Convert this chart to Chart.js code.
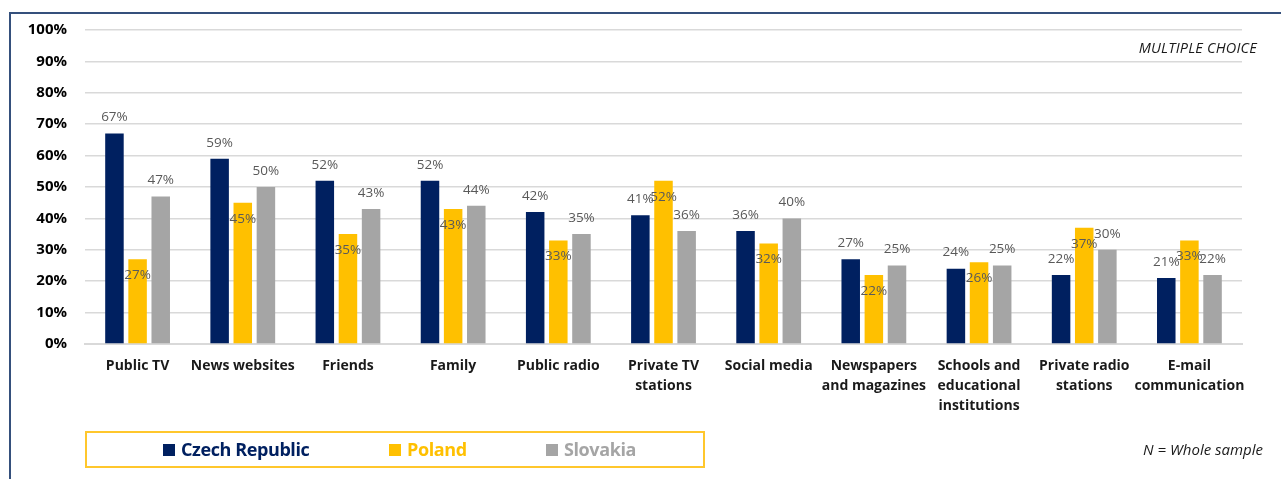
<!DOCTYPE html>
<html>
<head>
<meta charset="utf-8">
<script src="https://cdn.jsdelivr.net/npm/chart.js@4"></script>
<style>
  html, body { margin: 0; padding: 0; background: #fff; }
  #wrap { position: relative; width: 1281px; height: 479px; overflow: hidden; font-family: "Open Sans", sans-serif; }
  #frame { position: absolute; left: 9px; top: 12px; right: -5px; bottom: -5px; border-top: 2px solid #35507c; border-left: 2px solid #35507c; }
  #chartBox { position: absolute; left: 0; top: 0; width: 1281px; height: 479px; }
  .note { position: absolute; font-style: italic; color: #1a1a1a; white-space: nowrap; line-height: 20px; }
  #legend { position: absolute; left: 85px; top: 431px; width: 616px; height: 33px; border: 2px solid #ffc72c; }
  .item { position: absolute; top: 5px; font-weight: bold; font-size: 18px; line-height: 22px; white-space: nowrap; letter-spacing: -0.4px; }
  .item span { display: inline-block; width: 12px; height: 12px; margin-right: 6px; vertical-align: 0px; }
</style>
</head>
<body>
<div id="wrap">
  <div id="frame"></div>
  <div id="chartBox"><canvas id="mediaChart"></canvas></div>
  <div class="note" style="right:24px; top:38px; font-size:14.5px; letter-spacing:0.2px;">MULTIPLE CHOICE</div>
  <div class="note" style="right:18px; top:439px; font-size:15px;">N = Whole sample</div>
  <div id="legend"></div>
</div>
<script>
const categories = [
  'Public TV', 'News websites', 'Friends', 'Family', 'Public radio',
  ['Private TV', 'stations'], 'Social media', ['Newspapers', 'and magazines'],
  ['Schools and', 'educational', 'institutions'], ['Private radio', 'stations'],
  ['E-mail', 'communication']
];
const seriesNames = ['Czech Republic', 'Poland', 'Slovakia'];
const seriesColors = ['#002060', '#ffc000', '#a5a5a5'];
const czech = [67, 59, 52, 52, 42, 41, 36, 27, 24, 22, 21];
const poland = [27, 45, 35, 43, 33, 52, 32, 22, 26, 37, 33];
const slovakia = [47, 50, 43, 44, 35, 36, 40, 25, 25, 30, 22];
const yTicks = [0, 10, 20, 30, 40, 50, 60, 70, 80, 90, 100];

// etiquettes de valeur : au-dessus pour CZ et SK, sous le sommet pour PL
const valueLabels = {
  id: 'valueLabels',
  afterDatasetsDraw(chart) {
    const ctx = chart.ctx;
    ctx.save();
    ctx.font = '13.5px "Open Sans"';
    ctx.fillStyle = '#595959';
    ctx.textAlign = 'center';
    ctx.textBaseline = 'middle';
    chart.data.datasets.forEach(function (ds, i) {
      const meta = chart.getDatasetMeta(i);
      meta.data.forEach(function (bar, j) {
        const off = i === 1 ? 16 : -16;
        ctx.fillText(ds.data[j] + '%', bar.x, bar.y + off);
      });
    });
    ctx.restore();
  }
};

const allSeries = [czech, poland, slovakia];
const datasets = allSeries.map(function (vals, i) {
  return {
    label: seriesNames[i],
    data: vals,
    backgroundColor: seriesColors[i],
    borderWidth: 0,
    categoryPercentage: 0.66,
    barPercentage: 0.8
  };
});

const ctx = document.getElementById('mediaChart').getContext('2d');
new Chart(ctx, {
  type: 'bar',
  data: { labels: categories, datasets: datasets },
  options: {
    responsive: true,
    maintainAspectRatio: false,
    animation: false,
    layout: { padding: { top: 30, right: 39, bottom: 0, left: 0 } },
    plugins: { legend: { display: false }, tooltip: { enabled: false } },
    scales: {
      x: {
        grid: { display: false, drawTicks: false },
        border: { display: true, color: '#d9d9d9', width: 2 },
        ticks: {
          padding: 12,
          color: '#1a1a1a',
          font: { family: 'Open Sans', size: 14, weight: 'bold', lineHeight: 1.43 },
          maxRotation: 0,
          autoSkip: false
        },
        afterFit: function (scale) { scale.height = 135; }
      },
      y: {
        min: 0,
        max: 100,
        afterBuildTicks: function (scale) {
          scale.ticks = yTicks.map(function (v) { return { value: v }; });
        },
        grid: { color: '#d9d9d9', lineWidth: 1.5, drawTicks: false },
        border: { display: false },
        ticks: {
          padding: 18,
          color: '#000',
          font: { family: 'Open Sans', size: 15, weight: 'bold' },
          callback: function (v) { return v + '%'; }
        },
        afterFit: function (scale) { scale.width = 85; }
      }
    }
  },
  plugins: [valueLabels]
});

// légende HTML
const legendPos = [76, 302, 459];
const legendEl = document.getElementById('legend');
seriesNames.forEach(function (name, i) {
  const item = document.createElement('div');
  item.className = 'item';
  item.style.left = legendPos[i] + 'px';
  item.style.color = seriesColors[i];
  item.innerHTML = '<span style="background:' + seriesColors[i] + '"></span>' + name;
  legendEl.appendChild(item);
});
</script>
</body>
</html>
